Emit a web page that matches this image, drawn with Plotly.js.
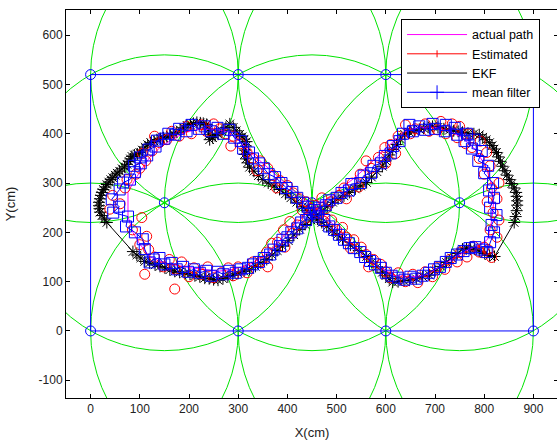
<!DOCTYPE html>
<html>
<head>
<meta charset="utf-8">
<script src="https://cdn.plot.ly/plotly-3.0.1.min.js"></script>
<style>
html,body{margin:0;padding:0;overflow:hidden;background:#fff;}
#chart{width:560px;height:440px;}
</style>
</head>
<body>
<div id="chart"></div>
<script>
// Anchor (beacon) positions and their range circles
const anchorX = [0, 300, 600, 900, 0, 300, 600, 900, 150, 450, 750];
const anchorY = [0, 0, 0, 0, 520, 520, 520, 520, 260, 260, 260];
const anchorRadius = 300;
// Boundary rectangle
const boundaryX = [0, 900, 900, 0, 0];
const boundaryY = [0, 0, 520, 520, 0];

// Actual path (figure eight)
const actualX = [807,815,819,815,803,782,756,729,703,668,638,614,593,567,537,506,480,451,425,399,374,348,320,289,259,228,198,165,141,120,100,86,76,76,90,104,120,141,165,192,222,253,283,303,323,348,374,401,425,451,480,506,533,561,587,618,648,679,709,740,770,795,807];
const actualY = [186,222,260,297,334,368,392,405,413,413,405,384,364,338,311,287,267,250,226,200,172,149,133,125,121,125,129,135,141,151,176,200,232,281,307,328,352,372,388,403,409,409,403,384,364,342,318,295,275,255,230,202,176,149,129,113,109,113,129,149,166,176,186];

// Estimated positions (red circles)
const estX = [815,808,826,812,830,818,806,826,815,830,800,812,790,805,775,792,762,770,745,750,722,735,705,712,688,680,660,650,640,625,610,620,598,585,600,570,560,548,532,545,515,505,520,488,470,478,455,462,440,430,420,405,410,392,380,395,368,358,345,360,330,318,300,290,280,265,250,238,225,210,200,171,185,172,160,148,130,110,118,100,114,85,104,39,60,45,70,74,92,100,112,105,125,140,130,155,165,180,195,205,225,235,250,262,275,290,285,305,318,330,345,338,360,372,385,378,400,412,425,438,448,465,475,490,500,512,520,535,528,550,560,575,565,590,600,610,625,640,655,665,680,695,705,720,730,745,752,765,778,790,800];
const estY = [149,165,190,205,225,240,262,268,290,300,318,335,350,362,372,385,380,400,392,415,400,420,408,425,405,420,410,400,418,395,378,360,372,352,340,330,345,318,300,292,290,275,268,262,270,248,255,240,230,245,215,222,198,205,180,170,178,160,140,130,140,118,130,112,128,118,108,130,115,128,110,85,140,125,145,130,150,115,165,175,192,205,230,247,258,275,290,307,318,330,345,360,365,382,395,388,405,395,415,400,418,405,420,410,400,395,375,380,362,350,345,325,330,315,305,290,295,280,268,262,248,238,222,225,205,210,190,185,168,170,155,145,130,135,120,108,118,100,115,98,120,110,130,125,145,140,160,150,172,160,170];

// EKF track (black asterisks)
const ekfX = [821,861,864,866,867,867,866,865,861,856,851,846,842,837,833,829,825,820,816,811,804,797,790,779,767,756,747,738,729,718,706,695,686,677,668,658,648,638,630,622,614,607,600,593,582,571,561,549,538,526,515,503,492,481,470,459,448,436,425,413,402,390,379,369,358,346,335,323,312,300,289,279,269,259,250,241,232,222,212,202,192,181,171,161,151,141,131,120,110,102,94,86,33,28,23,19,18,17,17,19,21,23,26,30,33,37,41,45,50,54,59,64,69,74,78,81,84,89,95,100,105,111,116,122,129,135,142,148,155,162,168,175,182,189,196,203,209,216,223,229,236,239,241,242,248,253,259,267,275,283,290,296,303,308,312,317,316,314,313,316,319,323,332,341,350,361,373,384,396,407,419,430,440,451,461,470,480,491,501,512,528,545,561,572,582,593,600,607,614,625,637,648,662,675,689,700,712,723,734,745,756,764,772,780,790,801,811];
const ekfY = [151,220,232,244,255,264,273,281,290,299,307,316,325,334,344,353,362,369,376,382,388,393,398,400,401,403,405,406,407,410,413,415,413,411,409,406,403,399,389,378,368,357,345,334,323,312,301,294,288,281,274,268,261,252,244,235,225,216,206,195,183,172,163,154,145,138,131,125,121,117,113,110,106,103,104,106,107,110,112,115,117,119,121,124,128,131,134,138,141,148,154,161,220,227,234,241,248,254,261,268,275,281,287,292,297,302,307,311,316,320,324,329,333,338,344,349,354,357,359,362,367,373,378,382,385,388,390,392,394,397,400,403,408,412,417,419,421,423,422,421,419,408,398,388,392,396,399,406,413,420,413,406,399,394,389,384,375,367,358,349,341,332,324,315,307,300,294,287,278,270,261,252,244,235,227,220,212,203,195,186,174,163,151,140,130,119,112,106,99,100,102,103,106,110,113,122,131,139,148,157,166,167,166,166,162,157,153];

// Mean filter (blue squares)
const meanX = [805,812,820,815,825,812,820,810,818,800,808,788,795,775,780,760,765,745,740,720,722,700,695,680,668,655,648,635,628,615,610,598,590,575,570,555,548,530,525,510,500,485,478,465,458,445,438,428,420,408,400,390,385,372,365,352,342,330,320,305,295,282,270,258,245,235,222,210,198,188,175,165,150,140,128,120,110,106,90,72,76,46,58,43,59,66,80,90,88,102,100,115,118,132,135,150,158,172,180,195,205,220,232,245,258,270,282,292,305,310,322,330,342,352,362,375,388,398,410,420,432,442,455,462,475,485,495,505,515,525,535,548,558,568,578,590,600,612,625,638,650,662,675,688,698,710,722,732,745,758,770,782,795];
const meanY = [160,180,200,215,235,250,270,285,300,320,335,345,365,370,388,385,400,398,412,405,418,410,420,408,415,405,418,400,385,375,360,355,340,335,320,315,300,298,285,280,270,265,255,250,240,238,225,220,208,200,190,185,172,165,155,148,140,135,128,125,118,122,115,120,112,122,118,125,120,130,125,138,135,148,145,139,166,186,200,212,232,240,252,267,287,301,307,322,335,340,352,356,368,374,386,390,400,398,410,405,418,410,415,405,412,400,408,392,385,370,362,350,340,330,318,312,300,290,282,270,260,252,245,232,225,212,205,195,185,178,168,160,150,142,135,128,118,112,108,104,110,106,112,118,125,130,140,148,155,162,168,170,165];

const xTicks = [0,100,200,300,400,500,600,700,800,900];
const yTicks = [-100,0,100,200,300,400,500,600];
const legendNames = ['actual path', 'Estimated', 'EKF', 'mean filter'];

const GREEN = '#00e400', BLUE = '#0000ff', RED = '#ff0000', MAG = '#ff00ff';

const shapes = anchorX.map((ax, i) => ({
  type: 'circle', xref: 'x', yref: 'y', layer: 'below',
  x0: ax - anchorRadius, x1: ax + anchorRadius,
  y0: anchorY[i] - anchorRadius, y1: anchorY[i] + anchorRadius,
  line: {color: GREEN, width: 1}
}));

const traces = [
  {x: boundaryX, y: boundaryY, mode: 'lines', line: {color: BLUE, width: 1}, showlegend: false, hoverinfo: 'skip'},
  {x: anchorX, y: anchorY, mode: 'markers', marker: {symbol: 'circle-open', size: 10, color: BLUE, line: {width: 1}}, showlegend: false},
  {x: ekfX, y: ekfY, mode: 'lines+markers', line: {color: '#000', width: 1}, marker: {symbol: 'asterisk-open', size: 10, color: '#000', line: {width: 1, color: '#000'}}, showlegend: false},
  {x: actualX, y: actualY, mode: 'lines', line: {color: MAG, width: 1}, showlegend: false},
  {x: estX, y: estY, mode: 'markers', marker: {symbol: 'circle-open', size: 10, color: RED, line: {width: 1}}, showlegend: false},
  {x: meanX, y: meanY, mode: 'lines+markers', line: {color: BLUE, width: 1}, marker: {symbol: 'square-open', size: 11, color: BLUE, line: {width: 1}}, showlegend: false},
  // legend entries
  {x: [null], y: [null], name: legendNames[0], legendgroup: 'a', mode: 'lines', line: {color: MAG, width: 1}},
  {x: [null], y: [null], name: legendNames[1], legendgroup: 'b', mode: 'lines+markers', line: {color: RED, width: 1}, marker: {symbol: 'line-ns-open', size: 5, color: RED, line: {width: 1}}},
  {x: [null], y: [null], name: legendNames[2], legendgroup: 'c', mode: 'lines', line: {color: '#000', width: 1}},
  {x: [null], y: [null], name: legendNames[3], legendgroup: 'd', mode: 'lines+markers', line: {color: BLUE, width: 1}, marker: {symbol: 'cross-thin-open', size: 10, color: BLUE, line: {width: 1}}}
];

const font = {family: 'Liberation Sans, Arial, Helvetica, sans-serif', size: 12, color: '#222'};

const layout = {
  width: 560, height: 440,
  margin: {l: 66, r: 2, t: 10, b: 42},
  paper_bgcolor: '#fff', plot_bgcolor: '#fff',
  font: font,
  shapes: shapes,
  showlegend: true,
  legend: {x: 0.681, y: 0.977, xanchor: 'left', yanchor: 'top', bgcolor: '#fff', bordercolor: '#000', borderwidth: 1,
    font: {family: font.family, size: 12.5, color: '#000'}, itemwidth: 60, tracegroupgap: 3, traceorder: 'normal'},
  xaxis: {range: [-50, 950], tickvals: xTicks, ticktext: xTicks.map(String), ticks: 'inside', ticklen: 4, tickcolor: '#000', showline: true, linecolor: '#000', linewidth: 1, mirror: 'ticks', showgrid: false, zeroline: false, tickfont: font, automargin: false,
    title: {text: 'X(cm)', font: {family: font.family, size: 13, color: '#222'}, standoff: 12}},
  yaxis: {range: [-136, 651], tickvals: yTicks, ticktext: yTicks.map(String), ticks: 'inside', ticklen: 4, tickcolor: '#000', showline: true, linecolor: '#000', linewidth: 1, mirror: 'ticks', showgrid: false, zeroline: false, tickfont: font, automargin: false,
    title: {text: 'Y(cm)', font: {family: font.family, size: 13, color: '#222'}, standoff: 20}}
};

Plotly.newPlot('chart', traces, layout, {displayModeBar: false, staticPlot: true});
</script>
</body>
</html>
